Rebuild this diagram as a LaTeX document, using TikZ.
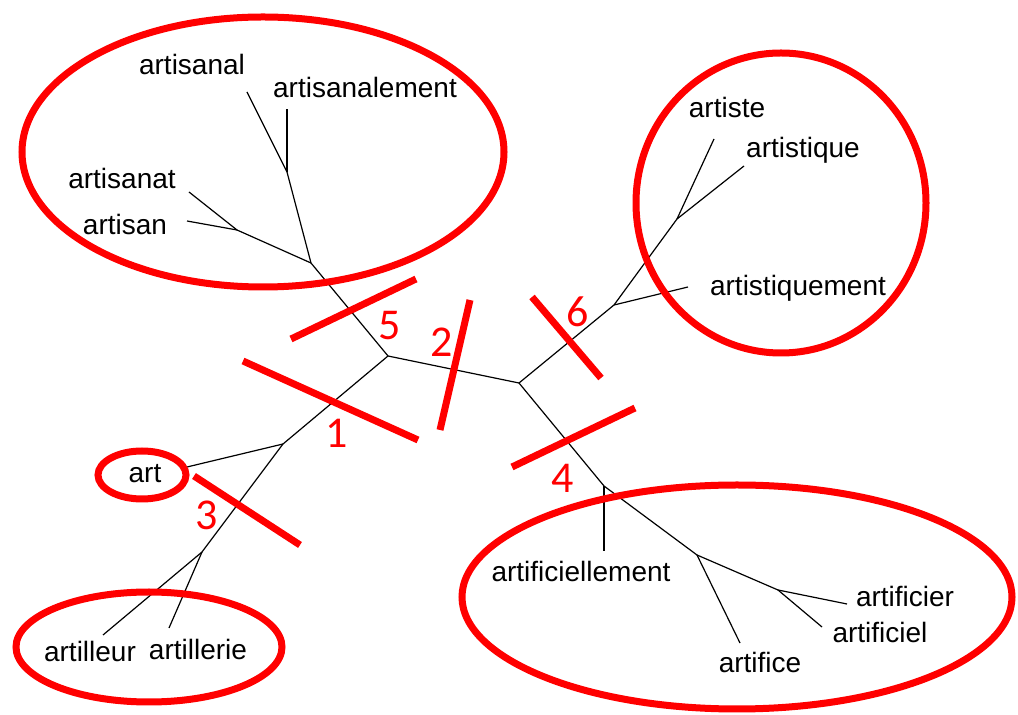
\documentclass[tikz,border=0pt]{standalone}
\usepackage{fontspec}
\setmainfont{Liberation Sans}
\newfontfamily\numfont{Carlito}
\usetikzlibrary{positioning}

\begin{document}
\begin{tikzpicture}[x=0.5pt,y=-0.5pt,
    word/.style={font=\fontsize{14}{16}\selectfont, inner sep=0pt},
    branch/.style={black, line width=0.6pt},
    cutmark/.style={red, line width=3.5pt},
    cutnum/.style={red, font=\numfont\fontsize{22}{26}\selectfont, inner sep=0pt}]
  \useasboundingbox (0,0) rectangle (1018,715);

  % inner junctions
  \coordinate (A) at (388,356);
  \coordinate (B) at (519,383);
  \coordinate (C) at (311,263);
  \coordinate (D) at (287,172);
  \coordinate (E) at (237,230);
  \coordinate (F) at (283,444);
  \coordinate (G) at (202,552);
  \coordinate (H) at (614,305);
  \coordinate (I) at (677,219);
  \coordinate (J) at (604,486);
  \coordinate (K) at (697,555);
  \coordinate (L) at (778,590);

  % leaf tips
  \coordinate (tArtisanal) at (247,92);
  \coordinate (tArtisanalement) at (287,109);
  \coordinate (tArtisanat) at (189,192);
  \coordinate (tArtisan) at (187,221);
  \coordinate (tArt) at (187,467);
  \coordinate (tArtilleur) at (103,635);
  \coordinate (tArtillerie) at (169,628);
  \coordinate (tArtiste) at (714,139);
  \coordinate (tArtistique) at (744,166);
  \coordinate (tArtistiquement) at (688,287);
  \coordinate (tArtificiellement) at (604,551);
  \coordinate (tArtifice) at (740,643);
  \coordinate (tArtificier) at (847,604);
  \coordinate (tArtificiel) at (822,627);

  % words
  \node[word] (artisanal) at (192,64) {artisanal};
  \node[word] (artisanalement) at (365,88) {artisanalement};
  \node[word] (artisanat) at (122,178) {artisanat};
  \node[word] (artisan) at (125,224) {artisan};
  \node[word] (art) at (145,474) {art};
  \node[word] (artilleur) at (90,651) {artilleur};
  \node[word] (artillerie) at (198,649) {artillerie};
  \node[word] (artiste) at (727,107) {artiste};
  \node[word] (artistique) at (803,150) {artistique};
  \node[word] (artistiquement) at (798,288) {artistiquement};
  \node[word] (artificiellement) at (581,571) {artificiellement};
  \node[word] (artifice) at (760,662) {artifice};
  \node[word] (artificier) at (905,596) {artificier};
  \node[word] (artificiel) at (880,632) {artificiel};

  % tree
  \foreach \a/\b in {A/B, A/C, C/D, D/tArtisanal, D/tArtisanalement, C/E,
      E/tArtisanat, E/tArtisan, A/F, F/tArt, F/G, G/tArtilleur, G/tArtillerie,
      B/H, H/tArtistiquement, H/I, I/tArtiste, I/tArtistique,
      B/J, J/tArtificiellement, J/K, K/tArtifice, K/L, L/tArtificier, L/tArtificiel}
    \draw[branch] (\a) -- (\b);

  % groups
  \draw[cutmark] (263,152) ellipse [x radius=241, y radius=135];
  \draw[cutmark] (781,203) ellipse [x radius=145, y radius=150];
  \draw[cutmark] (142,475) ellipse [x radius=44, y radius=24];
  \draw[cutmark] (149,647) ellipse [x radius=133, y radius=55];
  \draw[cutmark] (737,597) ellipse [x radius=275, y radius=112];

  % cuts
  \coordinate (c1a) at (243,361); \coordinate (c1b) at (418,440);
  \coordinate (c2a) at (470,300); \coordinate (c2b) at (440,430);
  \coordinate (c3a) at (194,476); \coordinate (c3b) at (300,545);
  \coordinate (c4a) at (512,467); \coordinate (c4b) at (635,408);
  \coordinate (c5a) at (291,339); \coordinate (c5b) at (416,279);
  \coordinate (c6a) at (532,297); \coordinate (c6b) at (601,378);
  \foreach \i in {1,...,6}
    \draw[cutmark] (c\i a) -- (c\i b);

  \node[cutnum] (n1) at (337,433) {1};
  \node[cutnum] (n2) at (442,342) {2};
  \node[cutnum] (n3) at (207,515) {3};
  \node[cutnum] (n4) at (563,478) {4};
  \node[cutnum] (n5) at (390,326) {5};
  \node[cutnum] (n6) at (578,312) {6};
\end{tikzpicture}
\end{document}
